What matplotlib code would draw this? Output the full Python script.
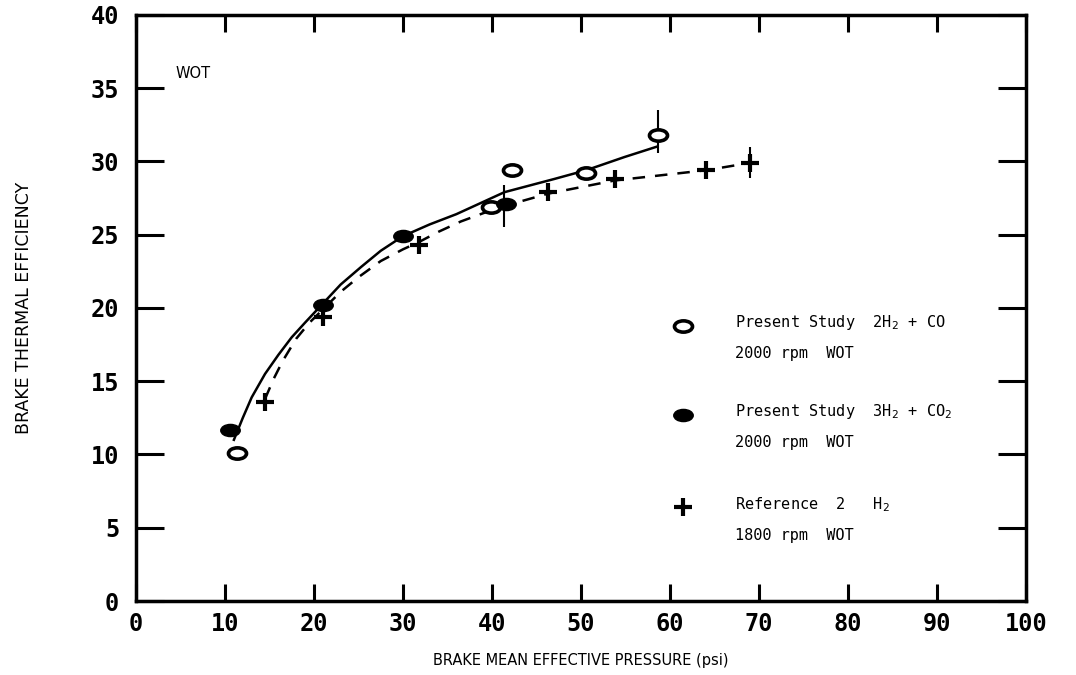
import numpy as np
import matplotlib
matplotlib.use("Agg")
import matplotlib.pyplot as plt
import matplotlib.path as mpath
from matplotlib.transforms import Affine2D

# data
# present study 2H2 + CO (open markers)
bmep_co = [11.3, 39.9, 42.2, 50.6, 58.7]
eff_co = [10.1, 26.9, 29.4, 29.2, 31.8]

# present study 3H2 + CO2 (filled markers)
bmep_co2 = [10.6, 21.0, 30.0, 41.6]
eff_co2 = [11.7, 20.2, 24.9, 27.1]

# reference 2, H2 (plus markers)
bmep_ref = [14.5, 21.0, 31.8, 46.3, 53.8, 64.1, 69.0]
eff_ref = [13.6, 19.4, 24.3, 27.9, 28.8, 29.4, 29.9]

# hand drawn curves through the points
fit_x = [11, 12, 13, 14.5, 16, 17.5, 19, 21, 23, 25.3, 27.5, 30, 33, 36, 41.4, 47, 50.6, 54.9, 58.5]
fit_y = [11, 12.5, 13.9, 15.5, 16.8, 18.0, 19.0, 20.3, 21.6, 22.8, 23.9, 24.9, 25.7, 26.4, 27.9, 28.8, 29.4, 30.3, 31.0]
ref_fit_x = [14.5, 15.5, 16.5, 18, 19.5, 21, 23, 25, 27.5, 30, 31.8, 34, 36.5, 40.5, 46.3, 53.8, 64.1, 69]
ref_fit_y = [13.8, 15.2, 16.4, 17.9, 19.0, 19.9, 21.1, 22.1, 23.2, 24.0, 24.5, 25.2, 25.9, 26.8, 27.8, 28.7, 29.4, 29.9]

# scatter bars on a few points (x, low, high)
bar_x = [41.3, 58.7, 69.0]
bar_lo = [25.5, 30.6, 28.9]
bar_hi = [28.4, 33.5, 31.0]

mono = ['DejaVu Sans Mono']
narrow = ['Liberation Sans Narrow', 'DejaVu Sans']

ellipse = Affine2D().scale(1.6, 1.0).transform_path(mpath.Path.unit_circle())

fig = plt.figure(figsize=(10.76, 6.75), dpi=100)
ax = fig.add_axes([0.1264, 0.1096, 0.8271, 0.8684])

ax.plot(fit_x, fit_y, color='black', lw=1.8)
ax.plot(ref_fit_x, ref_fit_y, color='black', lw=1.8, dashes=(5, 4))
ax.vlines(bar_x, bar_lo, bar_hi, color='black', lw=1.5)

ax.plot(bmep_co, eff_co, ls='none', marker=ellipse, ms=13, mfc='white', mec='black', mew=2.6)
ax.plot(bmep_co2, eff_co2, ls='none', marker=ellipse, ms=14, mfc='black', mec='black')
ax.plot(bmep_ref, eff_ref, ls='none', marker='+', ms=13, mew=3, color='black')

ax.set_xlim(0, 100)
ax.set_ylim(0, 40)
ax.set_xticks(range(0, 101, 10))
ax.set_yticks(range(0, 41, 5))
ax.tick_params(axis='y', which='both', direction='in', length=20, width=2.2,
               left=True, right=True, pad=12)
ax.tick_params(axis='x', which='both', direction='in', length=12, width=2.2,
               top=True, bottom=True, pad=8)
for lab in ax.get_xticklabels() + ax.get_yticklabels():
    lab.set_family(mono)
    lab.set_fontweight('bold')
    lab.set_fontsize(17)
for s in ax.spines.values():
    s.set_linewidth(2.5)

ax.set_xlabel('BRAKE MEAN EFFECTIVE PRESSURE (psi)', family=narrow, fontsize=10.5, labelpad=12)
ax.set_ylabel('BRAKE THERMAL EFFICIENCY', family=narrow, fontsize=12.5, labelpad=42)

ax.text(4.4, 36.0, 'WOT', family=narrow, fontsize=10.5, va='center')

# legend drawn by hand
leg_mx = 61.5
leg_tx = 67.3
leg_y = [18.8, 12.7, 6.4]
leg_l1 = ['Present Study  2H$_2$ + CO', 'Present Study  3H$_2$ + CO$_2$', 'Reference  2   H$_2$']
leg_l2 = ['2000 rpm  WOT', '2000 rpm  WOT', '1800 rpm  WOT']
ax.plot([leg_mx], [leg_y[0]], ls='none', marker=ellipse, ms=13, mfc='white', mec='black', mew=2.6)
ax.plot([leg_mx], [leg_y[1]], ls='none', marker=ellipse, ms=14, mfc='black', mec='black')
ax.plot([leg_mx], [leg_y[2]], ls='none', marker='+', ms=13, mew=3, color='black')
for y, l1, l2 in zip(leg_y, leg_l1, leg_l2):
    ax.text(leg_tx, y + 0.2, l1, family=mono, fontsize=11, va='center')
    ax.text(leg_tx, y - 1.9, l2, family=mono, fontsize=11, va='center')

fig.savefig('out.png', dpi=100)
